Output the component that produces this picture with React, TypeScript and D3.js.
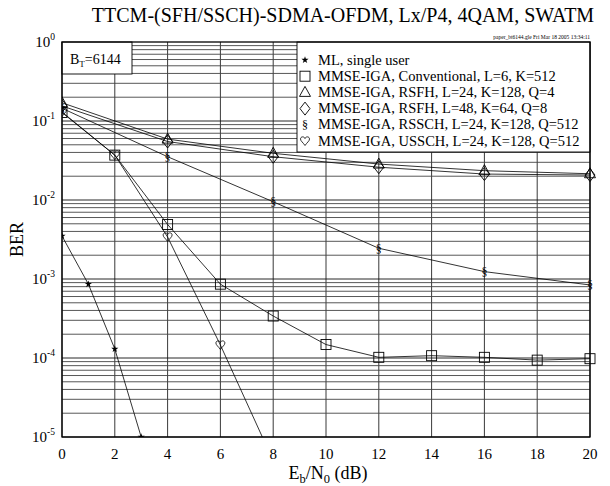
import React, { useEffect, useRef } from 'react';
import * as d3 from 'd3';

const W = 610;
const H = 486;

// Eb/N0 points (dB) and BER values
const mlX = [0, 1, 2, 3];
const mlY = [3.5e-3, 8.6e-4, 1.3e-4, 1.0e-5];

const convX = [0, 2, 4, 6, 8, 10, 12, 14, 16, 18, 20];
const convY = [0.128, 0.037, 4.9e-3, 8.6e-4, 3.4e-4, 1.48e-4, 1.02e-4, 1.07e-4, 1.02e-4, 9.4e-5, 9.8e-5];

const coarseX = [0, 4, 8, 12, 16, 20];
const rsfh4Y = [0.17, 0.059, 0.039, 0.0285, 0.0235, 0.0215];
const rsfh8Y = [0.155, 0.055, 0.0353, 0.026, 0.0213, 0.0207];
const rsschY = [0.145, 0.0353, 9.5e-3, 2.45e-3, 1.24e-3, 8.4e-4];

const usschX = [0, 2, 4, 6, 8];
const usschY = [0.13, 0.037, 3.4e-3, 1.46e-4, 5e-6];

const legendLabels = [
  'ML, single user',
  'MMSE-IGA, Conventional, L=6, K=512',
  'MMSE-IGA, RSFH, L=24, K=128, Q=4',
  'MMSE-IGA, RSFH, L=48, K=64, Q=8',
  'MMSE-IGA, RSSCH, L=24, K=128, Q=512',
  'MMSE-IGA, USSCH, L=24, K=128, Q=512',
];
const markerKinds = ['star', 'square', 'triangle', 'diamond', 'section', 'heart'];

const xTicks = [0, 2, 4, 6, 8, 10, 12, 14, 16, 18, 20];
const yExps = [0, -1, -2, -3, -4, -5];

const serif = '"Liberation Serif", "DejaVu Serif", serif';

const App = () => {
  const svgRef = useRef<SVGSVGElement>(null);

  useEffect(() => {
    const svg = d3.select(svgRef.current);
    svg.selectAll('*').remove();

    const left = 62, right = 590, top = 42, bottom = 437;
    const x = d3.scaleLinear().domain([0, 20]).range([left, right]);
    const y = d3.scaleLog().domain([1e-5, 1]).range([bottom, top]);

    svg.append('rect').attr('width', W).attr('height', H).attr('fill', '#fff');

    // title + stamp
    svg.append('text')
      .attr('x', 343).attr('y', 22)
      .attr('text-anchor', 'middle')
      .attr('font-family', serif).attr('font-size', 20)
      .text('TTCM-(SFH/SSCH)-SDMA-OFDM, Lx/P4, 4QAM, SWATM');
    svg.append('text')
      .attr('x', right).attr('y', 39)
      .attr('text-anchor', 'end')
      .attr('font-family', serif).attr('font-size', 5.5)
      .text('paper_bt6144.gle   Fri Mar 18 2005  13:34:11');

    // grid
    const grid = svg.append('g').attr('stroke', '#222').attr('stroke-width', 0.9);
    xTicks.forEach(t => {
      grid.append('line').attr('x1', x(t)).attr('x2', x(t)).attr('y1', top).attr('y2', bottom);
    });
    for (let e = -5; e < 0; e++) {
      for (let m = 1; m <= 9; m++) {
        const v = m * Math.pow(10, e);
        grid.append('line')
          .attr('x1', left).attr('x2', right)
          .attr('y1', y(v)).attr('y2', y(v))
          .attr('stroke', m === 1 ? '#111' : '#444');
      }
    }

    // B_T box
    svg.append('rect').attr('x', left).attr('y', top).attr('width', 70).attr('height', 32)
      .attr('fill', '#fff').attr('stroke', '#000').attr('stroke-width', 0.9);
    const bt = svg.append('text').attr('x', 70).attr('y', 64)
      .attr('font-family', serif).attr('font-size', 14);
    bt.append('tspan').text('B');
    bt.append('tspan').attr('dy', 3).attr('font-size', 9).text('T');
    bt.append('tspan').attr('dy', -3).text('=6144');

    // legend box
    const lgX = 297, lgBottom = 152;
    svg.append('rect').attr('x', lgX).attr('y', top).attr('width', right - lgX).attr('height', lgBottom - top)
      .attr('fill', '#fff').attr('stroke', '#000').attr('stroke-width', 0.9);

    const drawMarker = (g: any, kind: string, cx: number, cy: number) => {
      if (kind === 'star') {
        g.append('path').attr('d', d3.symbol(d3.symbolStar, 16)())
          .attr('transform', `translate(${cx},${cy})`).attr('fill', '#000');
      } else if (kind === 'square') {
        g.append('rect').attr('x', cx - 5).attr('y', cy - 5).attr('width', 10).attr('height', 10)
          .attr('fill', 'none').attr('stroke', '#000').attr('stroke-width', 0.9);
      } else if (kind === 'triangle') {
        g.append('path').attr('d', `M${cx},${cy - 6}L${cx + 5.5},${cy + 4}L${cx - 5.5},${cy + 4}Z`)
          .attr('fill', 'none').attr('stroke', '#000').attr('stroke-width', 0.9);
      } else if (kind === 'diamond') {
        g.append('path').attr('d', `M${cx},${cy - 6.5}L${cx + 5},${cy}L${cx},${cy + 6.5}L${cx - 5},${cy}Z`)
          .attr('fill', 'none').attr('stroke', '#000').attr('stroke-width', 0.9);
      } else if (kind === 'section') {
        g.append('text').attr('x', cx).attr('y', cy + 4.5).attr('text-anchor', 'middle')
          .attr('font-family', serif).attr('font-size', 12).attr('fill', '#000').text('§');
      } else if (kind === 'heart') {
        const p = `M${cx},${cy + 4.5}` +
          `C${cx - 2},${cy + 1.5} ${cx - 4.5},${cy} ${cx - 4.5},${cy - 2}` +
          `C${cx - 4.5},${cy - 4.5} ${cx - 1},${cy - 5} ${cx},${cy - 2.5}` +
          `C${cx + 1},${cy - 5} ${cx + 4.5},${cy - 4.5} ${cx + 4.5},${cy - 2}` +
          `C${cx + 4.5},${cy} ${cx + 2},${cy + 1.5} ${cx},${cy + 4.5}Z`;
        g.append('path').attr('d', p).attr('fill', 'none').attr('stroke', '#000').attr('stroke-width', 0.8);
      }
    };

    legendLabels.forEach((lab, i) => {
      const cy = 60 + i * 16.2;
      drawMarker(svg, markerKinds[i], 305, cy);
      svg.append('text').attr('x', 318).attr('y', cy + 4.5)
        .attr('font-family', serif).attr('font-size', 14.5).text(lab);
    });

    // curves
    svg.append('defs').append('clipPath').attr('id', 'plotclip')
      .append('rect').attr('x', left).attr('y', top - 8).attr('width', right - left + 8).attr('height', bottom - top + 8);

    const series = [
      { xs: mlX, ys: mlY, kind: 'star' },
      { xs: convX, ys: convY, kind: 'square' },
      { xs: coarseX, ys: rsfh4Y, kind: 'triangle' },
      { xs: coarseX, ys: rsfh8Y, kind: 'diamond' },
      { xs: coarseX, ys: rsschY, kind: 'section' },
      { xs: usschX, ys: usschY, kind: 'heart' },
    ];
    const line = d3.line<[number, number]>().x(d => x(d[0])).y(d => y(d[1]));
    const plot = svg.append('g').attr('clip-path', 'url(#plotclip)');
    series.forEach(s => {
      const pts = s.xs.map((v, i) => [v, s.ys[i]] as [number, number]);
      plot.append('path').attr('d', line(pts)).attr('fill', 'none')
        .attr('stroke', '#000').attr('stroke-width', 0.8);
      pts.filter(p => p[1] >= 1e-5 * 0.98).forEach(p => drawMarker(plot, s.kind, x(p[0]), y(p[1])));
    });

    // frame
    svg.append('rect').attr('x', left).attr('y', top).attr('width', right - left).attr('height', bottom - top)
      .attr('fill', 'none').attr('stroke', '#000').attr('stroke-width', 1.3);

    // x tick labels
    xTicks.forEach(t => {
      svg.append('text').attr('x', x(t)).attr('y', 459).attr('text-anchor', 'middle')
        .attr('font-family', serif).attr('font-size', 15).text(t);
    });
    // y tick labels
    yExps.forEach(e => {
      const tx = svg.append('text').attr('x', 55).attr('y', y(Math.pow(10, e)) + 5).attr('text-anchor', 'end')
        .attr('font-family', serif).attr('font-size', 15);
      tx.append('tspan').text('10');
      tx.append('tspan').attr('dy', -7).attr('font-size', 9.5).text(e);
    });

    // axis titles
    const xl = svg.append('text').attr('x', 328).attr('y', 479).attr('text-anchor', 'middle')
      .attr('font-family', serif).attr('font-size', 18);
    xl.append('tspan').text('E');
    xl.append('tspan').attr('dy', 4).attr('font-size', 12.5).text('b');
    xl.append('tspan').attr('dy', -4).text('/N');
    xl.append('tspan').attr('dy', 4).attr('font-size', 12.5).text('0');
    xl.append('tspan').attr('dy', -4).text(' (dB)');

    svg.append('text').attr('transform', `translate(23,${(top + bottom) / 2}) rotate(-90)`)
      .attr('text-anchor', 'middle').attr('font-family', serif).attr('font-size', 18).text('BER');
  }, []);

  return <svg ref={svgRef} width={W} height={H} style={{ display: 'block', position: 'absolute', left: 0, top: 0 }} />;
};

export default App;
